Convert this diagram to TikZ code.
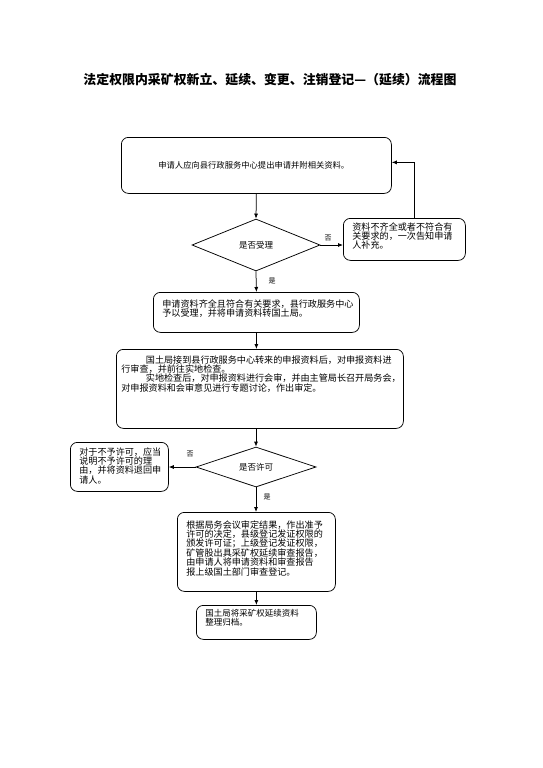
\documentclass[tikz,border=0pt]{standalone}
\usepackage{fontspec}
\newfontfamily\cjk{Noto Sans CJK SC}
\usetikzlibrary{arrows.meta,shapes.geometric}
\newcommand{\flowtext}[3]{\parbox[t][#2][t]{#1}{\raggedright #3}}
\tikzset{
    flow chart/.style = {>={Latex[length=5pt, width=4pt]}, x=1pt, y=-1pt},
    line/.style       = {line width=0.75pt},
    box/.style        = {draw, line width=0.75pt, rounded corners=7pt,
                         anchor=north west, inner xsep=9pt, inner ysep=5pt,
                         font=\cjk\fontsize{9.1}{9.4}\selectfont},
    test/.style       = {draw, line width=0.75pt, diamond, inner sep=0pt,
                         font=\cjk\fontsize{8.5}{9}\selectfont},
    tag/.style        = {font=\cjk\fontsize{7}{7}\selectfont},
    heading/.style    = {font=\cjk\bfseries\fontsize{12.9}{13}\selectfont}
}

\begin{document}
\begin{tikzpicture}[flow chart]
\useasboundingbox (0,0) rectangle (542,768);

% Title
\node[heading] (title) at (270,80)
    {法定权限内采矿权新立、延续、变更、注销登记—（延续）流程图};

% Application and acceptance
\node[box, inner xsep=37pt, text width=196pt, minimum height=56pt,
      font=\cjk\fontsize{8.3}{9}\selectfont] (apply) at (121,137)
    {申请人应向县行政服务中心提出申请并附相关资料。};
\node[test, aspect=2.46, minimum width=128pt, minimum height=52pt]
    (accept) at (256,245) {是否受理};
\node[box, inner ysep=4pt] (supp) at (343,218)
    {\flowtext{104pt}{34pt}{资料不齐全或者不符合有\\关要求的，一次告知申请\\人补充。}};
\node[box, inner ysep=7pt] (fwd) at (153,292)
    {\flowtext{188pt}{26pt}{申请资料齐全且符合有关要求，县行政服务中心\\予以受理，并将申请资料转国土局。}};

\draw[->, line] (apply.south) -- (accept.north);
\draw[->, line] (accept.east) -- (accept.east -| supp.west);
\draw[->, line] ([xshift=10pt]supp.north) |- ([yshift=3pt]apply.east);
\draw[->, line] (accept.south) -- (fwd.north);
\node[tag] (no1) at (328,238) {否};
\node[tag] (yes1) at (272,281) {是};

% Review
\node[box, inner xsep=5pt, inner ysep=6pt] (review) at (116,349)
    {\flowtext{277pt}{67pt}{\hspace*{2.7em}国土局接到县行政服务中心转来的申报资料后，对申报资料进\\行审查，并前往实地检查。\\\hspace*{2.7em}实地检查后，对申报资料进行会审，并由主管局长召开局务会，\\对申报资料和会审意见进行专题讨论，作出审定。}};
\draw[->, line] (fwd.south) -- (fwd.south |- review.north);

% Permit decision
\node[test, aspect=3, minimum width=120pt, minimum height=40pt]
    (permit) at (256,467) {是否许可};
\node[box] (refuse) at (70,442)
    {\flowtext{80pt}{39pt}{对于不予许可，应当\\说明不予许可的理\\由，并将资料退回申\\请人。}};
\node[box, inner ysep=8pt] (decide) at (177,512)
    {\flowtext{140pt}{63pt}{根据局务会议审定结果，作出准予\\许可的决定，县级登记发证权限的\\颁发许可证；上级登记发证权限，\\矿管股出具采矿权延续审查报告，\\由申请人将申请资料和审查报告\\报上级国土部门审查登记。}};
\node[box, inner ysep=4pt, font=\cjk\fontsize{8.5}{9.4}\selectfont]
    (archive) at (196,605)
    {\flowtext{102pt}{26pt}{国土局将采矿权延续资料\\整理归档。}};

\draw[->, line] (permit.north |- review.south) -- (permit.north);
\draw[->, line] (permit.west) -- (permit.west -| refuse.east);
\draw[->, line] (permit.south) -- (permit.south |- decide.north);
\draw[->, line] (decide.south) -- (archive.north);
\node[tag] (no2) at (190,454) {否};
\node[tag] (yes2) at (267,497) {是};

\end{tikzpicture}
\end{document}
